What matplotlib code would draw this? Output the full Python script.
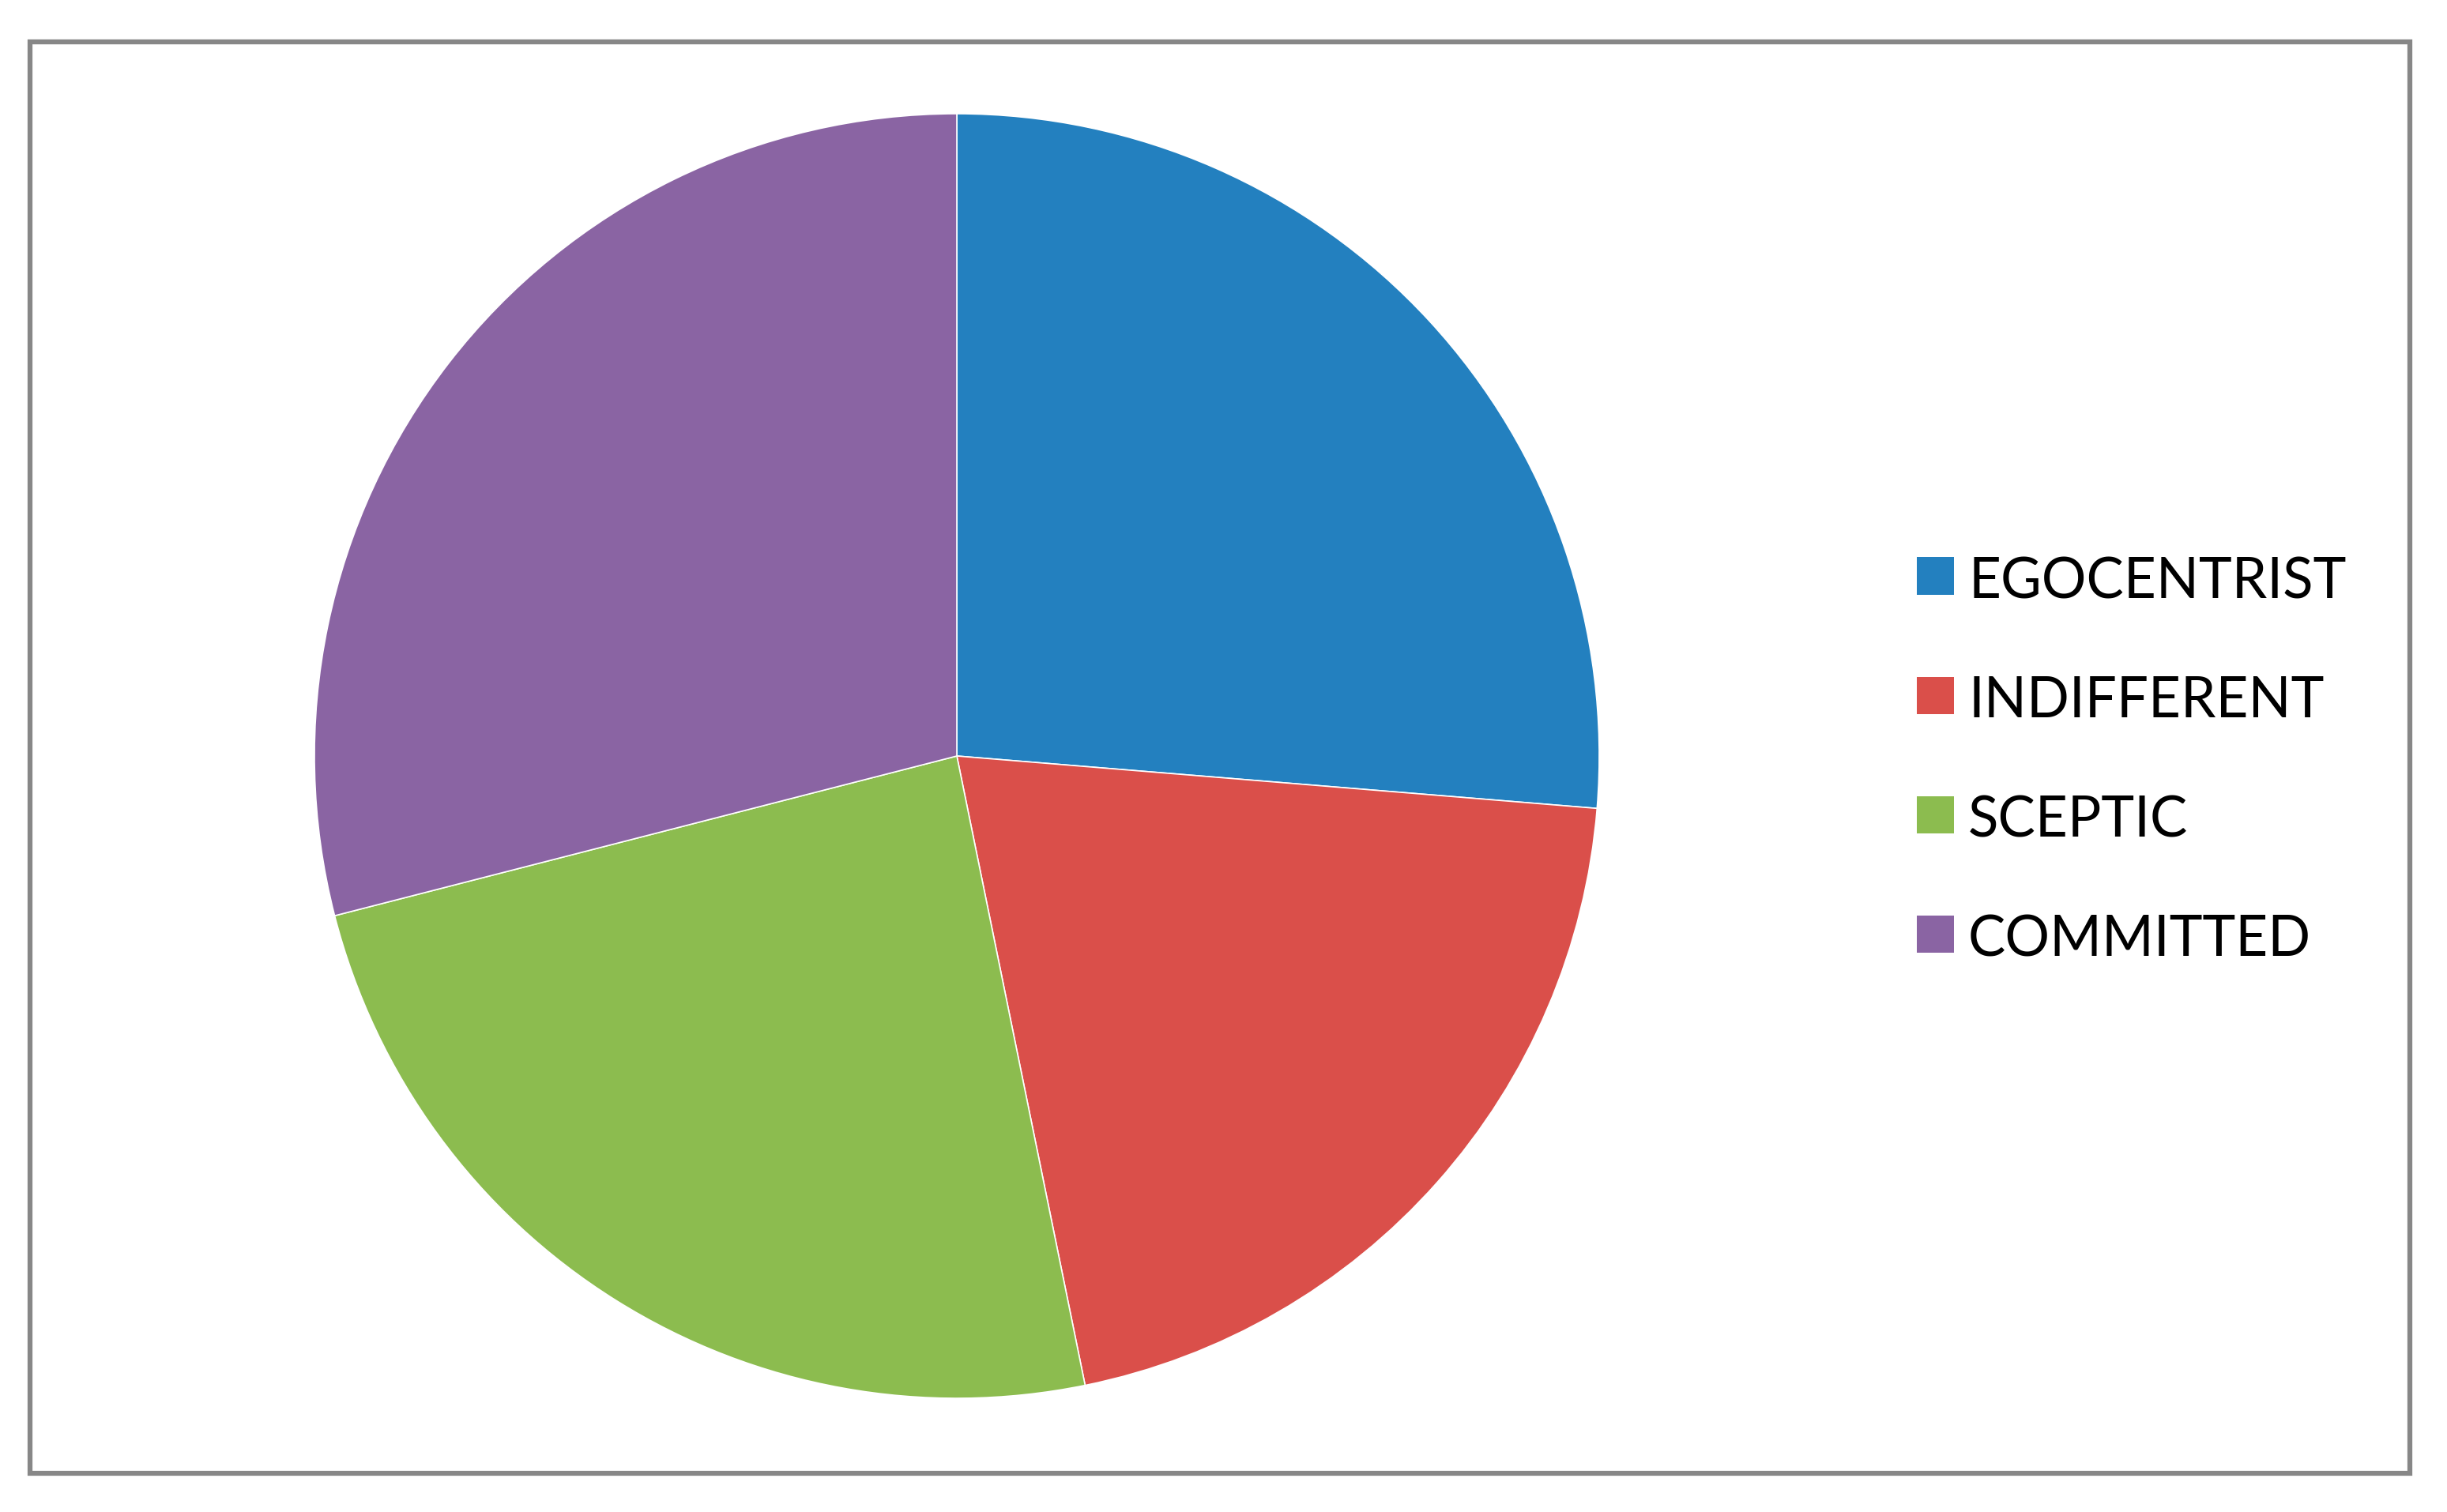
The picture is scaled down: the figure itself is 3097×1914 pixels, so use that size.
import matplotlib
matplotlib.use("Agg")
import matplotlib.pyplot as plt
from matplotlib.patches import Rectangle
from matplotlib import font_manager

categories = ["EGOCENTRIST", "INDIFFERENT", "SCEPTIC", "COMMITTED"]
values = [26.3, 20.5, 24.2, 29.0]
colors = ["#2380BF", "#DA4F4A", "#8CBC4F", "#8A64A3"]

W, H = 3097, 1914
fig = plt.figure(figsize=(W / 100, H / 100), dpi=100)
fig.patch.set_facecolor("white")

names = {f.name for f in font_manager.fontManager.ttflist}
fam = "Liberation Sans Narrow" if "Liberation Sans Narrow" in names else "Lato"
fsize = 58 if fam == "Liberation Sans Narrow" else 51

# outer frame
fig.patches.append(Rectangle((38 / W, 1 - 1865 / H), (3050 - 38) / W, (1865 - 53) / H,
                             transform=fig.transFigure, fill=False,
                             edgecolor="#878787", linewidth=4.5, zorder=0))

cx, cy, r = 1211, 957, 813
ax = fig.add_axes([(cx - r) / W, 1 - (cy + r) / H, 2 * r / W, 2 * r / H])
ax.pie(values, colors=colors, startangle=90, counterclock=False,
       wedgeprops=dict(edgecolor="white", linewidth=1.2), radius=1)
ax.set_xlim(-1, 1)
ax.set_ylim(-1, 1)
ax.set_aspect("equal")
ax.axis("off")

# legend (manual, Excel style)
sq = 47
y0, dy = 729, 151.3
for i, (lab, col) in enumerate(zip(categories, colors)):
    yc = y0 + i * dy
    fig.patches.append(Rectangle((2426 / W, 1 - (yc + sq / 2) / H), sq / W, sq / H,
                                 transform=fig.transFigure, facecolor=col,
                                 edgecolor="none"))
    fig.text(2491 / W, 1 - (yc + 28) / H, lab, family=fam, fontsize=fsize,
             color="black", va="baseline", ha="left")

fig.savefig("out.png", dpi=100, facecolor="white")
